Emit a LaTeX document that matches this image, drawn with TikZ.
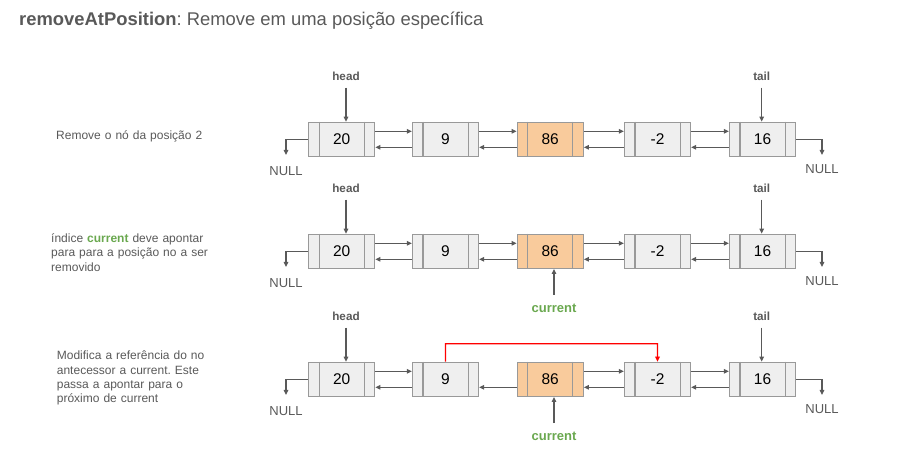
\documentclass[tikz,border=0pt]{standalone}
\usepackage{fontspec}
\setmainfont{Liberation Sans}
\usetikzlibrary{arrows.meta}
\definecolor{txtgray}{HTML}{595959}
\definecolor{boxfill}{HTML}{EFEFEF}
\definecolor{boxline}{HTML}{999999}
\definecolor{orng}{HTML}{F9CB9C}
\definecolor{curgreen}{HTML}{6AA84F}
\definecolor{arrowgray}{HTML}{595959}
\definecolor{redline}{rgb}{1,0,0}
\frenchspacing
\begin{document}
\begin{tikzpicture}[x=1pt,y=-1pt,
  listbox/.style={draw=boxline, line width=1.2pt, minimum width=66pt, minimum height=34pt, inner sep=0pt, font=\fontsize{15.5}{18}\selectfont, text=black},
  divider/.style={draw=boxline, line width=1.2pt},
  link/.style={draw=arrowgray, line width=1.2pt, -{Triangle[length=5pt,width=4.5pt]}},
  redlink/.style={fill=redline, draw=none},
  ptrlbl/.style={font=\fontsize{11.7}{14}\selectfont\bfseries, text=txtgray, inner sep=0pt},
  nulllbl/.style={font=\fontsize{13}{15}\selectfont, text=txtgray, inner sep=0pt},
  curlbl/.style={font=\fontsize{13}{15}\selectfont\bfseries, text=curgreen, inner sep=0pt},
  note/.style={font=\fontsize{12}{14.3}\selectfont, text=txtgray, inner sep=0pt, anchor=base west, text width=230pt, align=left},
]
\useasboundingbox (0,0) rectangle (911,454);

% title
\node[anchor=base west, inner sep=0pt, text=txtgray, font=\fontsize{18.4}{22}\selectfont] (title) at (19,26)
  {\textbf{removeAtPosition}: Remove em uma posição específica};

% boxes
\foreach \row/\yy in {1/139.3, 2/251.3, 3/379.3} {
  \foreach \n/\xx/\v/\f in {a/341.7/20/boxfill, b/445.5/9/boxfill, c/550.2/86/orng, d/657.5/-2/boxfill, e/762.5/16/boxfill} {
    \node[listbox, fill=\f] (r\row\n) at (\xx,\yy) {\v};
    \draw[divider] ([xshift=11pt]r\row\n.north west) -- ([xshift=11pt]r\row\n.south west);
    \draw[divider] ([xshift=-11pt]r\row\n.north east) -- ([xshift=-11pt]r\row\n.south east);
  }
  % head / tail
  \node[ptrlbl] (head\row) at (346,\yy-62.6) {head};
  \node[ptrlbl] (tail\row) at (761.7,\yy-62.6) {tail};
  \draw[link] ([yshift=-11pt]head\row.center) -- (head\row.center |- r\row a.north);
  \draw[link] ([yshift=-11pt]tail\row.center) -- (tail\row.center |- r\row e.north);
  % NULL ends
  \node[nulllbl] (nl\row) at (286,\yy+31.7) {NULL};
  \node[nulllbl] (nr\row) at (822,\yy+30) {NULL};
  \draw[link] (r\row a.west) -| ([yshift=16pt]nl\row.center);
  \draw[link] (r\row e.east) -| ([yshift=14.3pt]nr\row.center);
}

% rows 1 and 2: full double links
\foreach \row in {1,2} {
  \foreach \p/\q in {a/b, b/c, c/d, d/e} {
    \draw[link] ([yshift=8pt]r\row\p.east) -- ([yshift=8pt]r\row\q.west);
    \draw[link] ([yshift=-8pt]r\row\q.west) -- ([yshift=-8pt]r\row\p.east);
  }
}
% row 3
\foreach \p/\q in {a/b, c/d, d/e} {
  \draw[link] ([yshift=8pt]r3\p.east) -- ([yshift=8pt]r3\q.west);
  \draw[link] ([yshift=-8pt]r3\q.west) -- ([yshift=-8pt]r3\p.east);
}
\draw[link] ([yshift=-8pt]r3c.west) -- ([yshift=-8pt]r3b.east);

% current pointers
\node[curlbl] (cur2) at (554,308.3) {current};
\node[curlbl] (cur3) at (554,436.7) {current};
\draw[link] ([yshift=13.5pt]cur2.center) -- (cur2.center |- r2c.south);
\draw[link] ([yshift=13.5pt]cur3.center) -- (cur3.center |- r3c.south);

% notes
\node[note] (note1) at (56,140) {Remove o nó da posição 2};
\node[note] (note2) at (51,242.7) {índice \textcolor{curgreen}{\textbf{current}} deve apontar\\para para a posição no a ser\\removido};
\node[note] (note3) at (56.7,360) {Modifica a referência do no\\antecessor a current. Este\\passa a apontar para o\\próximo de current};

% red re-link from node 9 to node -2 (outlined as a filled band with its arrow tip)
\coordinate (redtop) at ([yshift=18pt]r3b.north);
\coordinate (redcorner) at (r3d.north |- redtop);
\fill[redlink] ([xshift=-0.65pt]r3b.north)
  -- ([xshift=-0.65pt,yshift=0.65pt]redtop)
  -- ([xshift=0.65pt,yshift=0.65pt]redcorner)
  -- ([xshift=0.65pt,yshift=5pt]r3d.north)
  -- ([xshift=2.5pt,yshift=5pt]r3d.north)
  -- (r3d.north)
  -- ([xshift=-2.5pt,yshift=5pt]r3d.north)
  -- ([xshift=-0.65pt,yshift=5pt]r3d.north)
  -- ([xshift=-0.65pt,yshift=-0.65pt]redcorner)
  -- ([xshift=0.65pt,yshift=-0.65pt]redtop)
  -- ([xshift=0.65pt]r3b.north)
  -- cycle;
\end{tikzpicture}
\end{document}
